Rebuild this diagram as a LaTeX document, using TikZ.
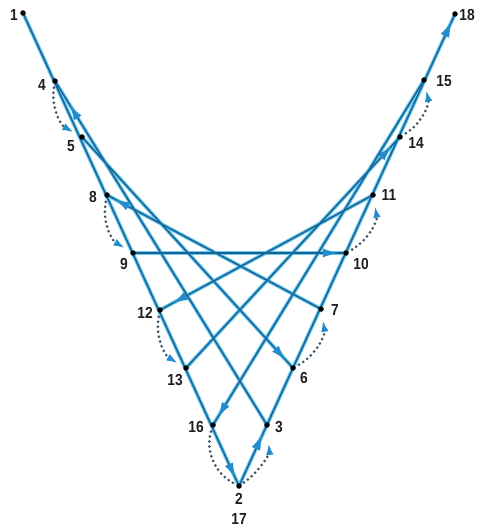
\documentclass[tikz,border=0pt]{standalone}
\usepackage{fontspec}
\setmainfont{Liberation Sans}
\newfontfamily\lblfont{Liberation Sans}[FakeStretch=0.86]
\usetikzlibrary{arrows.meta,decorations.markings,calc}
\pgfdeclarelayer{bg}
\pgfsetlayers{bg,main}
\definecolor{linec}{RGB}{22,100,150}
\definecolor{haloc}{RGB}{110,200,236}
\definecolor{arrc}{RGB}{35,140,205}
\definecolor{dotc}{RGB}{60,85,105}
\definecolor{txtc}{RGB}{30,30,30}
\begin{document}
\begin{tikzpicture}[x=1pt,y=-1pt,
  dot/.style={circle,fill=black,inner sep=0pt,minimum size=5.5pt},
  lbl/.style={text=txtc,font=\lblfont\bfseries\fontsize{16}{16}\selectfont,inner sep=0pt},
  halo/.style={draw=haloc,line width=3.8pt},
  seg/.style={draw=linec,line width=1.5pt},
  arrowat/.style={postaction={decorate},decoration={markings,mark=at position #1 with {\arrow{Latex[length=15pt,width=9pt,color=arrc]}}}},
  dotarc/.style={draw=dotc,line width=3pt,line cap=round,dash pattern=on 0pt off 5pt},
  dtip/.style={-{Latex[length=12pt,width=7.5pt,color=arrc]}}
]
\useasboundingbox (0,0) rectangle (481,529);
% points
\node[dot] (n1) at (23,13) {};
\node[dot] (n4) at (55,81) {};
\node[dot] (n5) at (82,137) {};
\node[dot] (n8) at (107,195) {};
\node[dot] (n9) at (133,253) {};
\node[dot] (n12) at (160,310) {};
\node[dot] (n13) at (186,368) {};
\node[dot] (n16) at (213,425) {};
\node[dot] (n2) at (239,486) {};
\node[dot] (n3) at (267,425) {};
\node[dot] (n6) at (293,368) {};
\node[dot] (n7) at (321,309) {};
\node[dot] (n10) at (346,253) {};
\node[dot] (n11) at (373,195) {};
\node[dot] (n14) at (400,137) {};
\node[dot] (n15) at (424,80) {};
\node[dot] (n18) at (455,14) {};
\begin{pgfonlayer}{bg}
% halos
\foreach \a/\b in {n1/n2,n2/n18,n3/n4,n5/n6,n7/n8,n9/n10,n11/n12,n13/n14,n15/n16}
  \draw[halo] (\a.center) -- (\b.center);
% solid lines
\draw[seg,arrowat=0.983] (n1.center) -- (n2.center);
\draw[seg,arrowat=0.108,arrowat=0.983] (n2.center) -- (n18.center);
\draw[seg,arrowat=0.93] (n3.center) -- (n4.center);
\draw[seg,arrowat=0.965] (n5.center) -- (n6.center);
\draw[seg,arrowat=0.963] (n7.center) -- (n8.center);
\draw[seg,arrowat=0.962] (n9.center) -- (n10.center);
\draw[seg,arrowat=0.94] (n11.center) -- (n12.center);
\draw[seg,arrowat=0.96] (n13.center) -- (n14.center);
\draw[seg,arrowat=0.977] (n15.center) -- (n16.center);
% dotted curves
\draw[dotarc,dtip,shorten <=3pt,shorten >=15pt] (n2) to[bend right=30] (n3);
\draw[dotarc,dtip,shorten <=4pt,shorten >=6pt] (n4) to[bend right=35] (n5);
\draw[dotarc,dtip,shorten <=4pt,shorten >=8pt] (n6) to[bend right=35] (n7);
\draw[dotarc,dtip,shorten <=4pt,shorten >=6pt] (n8) to[bend right=35] (n9);
\draw[dotarc,dtip,shorten <=4pt,shorten >=8pt] (n10) to[bend right=35] (n11);
\draw[dotarc,dtip,shorten <=4pt,shorten >=6pt] (n12) to[bend right=35] (n13);
\draw[dotarc,dtip,shorten <=4pt,shorten >=7pt] (n14) to[bend right=35] (n15);
\draw[dotarc,shorten <=4pt,shorten >=2pt] (n16) to[bend right=40] (n2);
\end{pgfonlayer}
% labels
\node[lbl] (l1) at (14,15) {1};
\node[lbl] (l4) at (42,85) {4};
\node[lbl] (l5) at (71,146) {5};
\node[lbl] (l8) at (93,197) {8};
\node[lbl] (l9) at (124,264) {9};
\node[lbl] (l12) at (145,313) {12};
\node[lbl] (l13) at (175,380) {13};
\node[lbl] (l16) at (196,427) {16};
\node[lbl] (l2) at (239,499) {2};
\node[lbl] (l17) at (239,519) {17};
\node[lbl] (l3) at (279,427) {3};
\node[lbl] (l6) at (304,378) {6};
\node[lbl] (l7) at (335,310) {7};
\node[lbl] (l10) at (361,264) {10};
\node[lbl] (l11) at (389,195) {11};
\node[lbl] (l14) at (416,143) {14};
\node[lbl] (l15) at (444,81) {15};
\node[lbl] (l18) at (467,15) {18};
\end{tikzpicture}
\end{document}
